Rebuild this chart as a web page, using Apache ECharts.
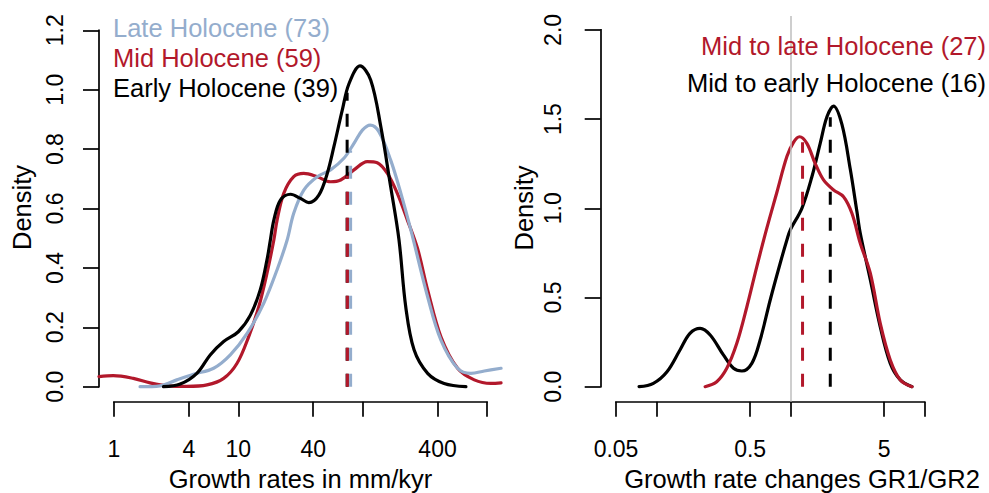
<!DOCTYPE html>
<html><head><meta charset="utf-8">
<script src="https://cdn.jsdelivr.net/npm/echarts@6/dist/echarts.min.js"></script>
<style>html,body{margin:0;padding:0;background:#fff;overflow:hidden}#c{width:989px;height:493px}</style>
</head><body><div id="c"></div>
<script>
// ================= DATA =================
// Left panel: density of growth rates (mm/kyr)
const leftSeriesNames = ['Late Holocene', 'Mid Holocene', 'Early Holocene'];
const leftCounts = [73, 59, 39];

const lateRate = [1.62, 2.35, 3.20, 4.36, 6.33, 8.62, 11.8, 16.0, 20.5, 24.7, 27.9, 33.6, 43.1, 55.2, 70.6, 85.1, 99.5, 115, 135, 168, 203, 244, 333, 426, 580, 743, 951, 1297];
const lateDensity = [0, 0.003, 0.023, 0.042, 0.062, 0.107, 0.180, 0.281, 0.394, 0.494, 0.584, 0.662, 0.707, 0.730, 0.769, 0.819, 0.864, 0.881, 0.859, 0.763, 0.651, 0.528, 0.303, 0.157, 0.062, 0.045, 0.053, 0.062];

const midRate = [0.757, 0.987, 1.43, 1.95, 2.66, 3.86, 5.60, 7.62, 9.77, 12.1, 14.6, 17.0, 19.3, 20.5, 23.2, 27.9, 33.6, 43.1, 55.2, 66.5, 85.1, 109, 131, 158, 190, 229, 276, 333, 426, 580, 790, 1077, 1297];
const midDensity = [0.034, 0.037, 0.028, 0.013, 0.003, 0.001, 0.006, 0.028, 0.079, 0.168, 0.269, 0.382, 0.494, 0.561, 0.651, 0.707, 0.718, 0.707, 0.690, 0.696, 0.730, 0.758, 0.754, 0.718, 0.651, 0.561, 0.466, 0.326, 0.168, 0.062, 0.023, 0.011, 0.013];

const earlyRate = [2.50, 3.41, 4.64, 5.94, 7.62, 10.0, 12.5, 15.0, 17.0, 18.1, 19.3, 21.8, 26.3, 31.6, 36.9, 44.4, 51.9, 58.7, 68.6, 77.6, 95.1, 116, 140, 168, 196, 222, 259, 333, 452, 677];
const earlyDensity = [0, 0.009, 0.045, 0.107, 0.152, 0.185, 0.241, 0.326, 0.427, 0.494, 0.561, 0.628, 0.648, 0.634, 0.620, 0.645, 0.718, 0.808, 0.932, 1.020, 1.080, 1.033, 0.875, 0.673, 0.494, 0.269, 0.124, 0.045, 0.011, 0];

// medians (late, mid, early) and curve height at median
const leftMedian = [80.0, 75.3, 75.0];
const leftMedianDensity = [0.795, 0.71, 0.99];

const leftXTicks = [1, 4, 10, 40, 100, 400, 1000];
const leftXLabels = [1, 4, 10, 40, 400];
const leftYMax = 1.2;
const leftYStep = 0.2;

// Right panel: density of growth rate changes GR1/GR2
const rightSeriesNames = ['Mid to late Holocene', 'Mid to early Holocene'];
const rightCounts = [27, 16];

const midLateRatio = [0.231, 0.282, 0.335, 0.398, 0.473, 0.561, 0.667, 0.792, 0.940, 1.053, 1.167, 1.325, 1.527, 1.763, 2.094, 2.486, 2.871, 3.314, 3.937, 4.670, 5.546, 6.587, 8.054];
const midLateDensity = [0, 0.028, 0.103, 0.243, 0.448, 0.673, 0.89, 1.09, 1.29, 1.37, 1.401, 1.364, 1.252, 1.159, 1.103, 1.065, 0.972, 0.804, 0.636, 0.355, 0.150, 0.038, 0];

const midEarlyRatio = [0.0743, 0.0950, 0.120, 0.150, 0.178, 0.212, 0.252, 0.316, 0.376, 0.434, 0.515, 0.594, 0.706, 0.838, 0.940, 0.995, 1.216, 1.444, 1.666, 1.870, 2.094, 2.419, 2.790, 3.131, 3.314, 3.937, 4.670, 5.546, 6.587, 8.054];
const midEarlyDensity = [0, 0.019, 0.084, 0.206, 0.299, 0.327, 0.290, 0.178, 0.103, 0.088, 0.131, 0.262, 0.486, 0.692, 0.822, 0.878, 1.0, 1.177, 1.364, 1.513, 1.573, 1.47, 1.22, 0.98, 0.86, 0.60, 0.336, 0.131, 0.038, 0];

// medians (mid-late, mid-early) and curve height at median
const rightMedian = [1.23, 1.98];
const rightMedianDensity = [1.37, 1.51];

const rightXTicks = [0.05, 0.1, 0.5, 1, 5, 10];
const rightXLabels = [0.05, 0.5, 5];
const rightYMax = 2.0;
const rightYStep = 0.5;
const referenceRatio = 1;

// ================= STYLE / LAYOUT =================
const FONT = '"Liberation Sans", Arial, Helvetica, sans-serif';
const C_BLUE = '#94ADCD', C_RED = '#B2182B', C_BLACK = '#000000', C_GREY = '#BEBEBE';
const AXIS_W = 1.7, CURVE_W = 3.2, DASH_W = 3;
const TICK_FS = 23, TEXT_FS = 25.5;

const layoutL = {tx0: 114, tx1: 487, ax: 99, yTop: 30.3, yBase: 386.7, plotTop: 16, axY: 401.7, xLabMargin: 36, yLabMargin: 33};
const layoutR = {tx0: 616, tx1: 924.6, ax: 600.7, yTop: 29.9, yBase: 386.7, plotTop: 16, axY: 401.7, xLabMargin: 36, yLabMargin: 36};

function fmtTick(v) { return String(parseFloat(Math.pow(10, v).toPrecision(3))); }

const grids = [], xAxes = [], yAxes = [];
function buildPanel(lay, xTicks, xLabels, yMax, yStep) {
  const base = grids.length;
  const lt0 = Math.log10(xTicks[0]), lt1 = Math.log10(xTicks[xTicks.length - 1]);
  const kx = (lay.tx1 - lay.tx0) / (lt1 - lt0);
  const ky = (lay.yBase - lay.yTop) / yMax;
  const padX = lay.tx0 - lay.ax;
  const g = {outerBoundsMode: 'none', containLabel: false};
  // 0: plot region (data)
  grids.push(Object.assign({left: lay.ax, top: lay.plotTop, width: (lay.tx1 - lay.tx0) + 2 * padX, height: lay.axY - lay.plotTop}, g));
  xAxes.push({type: 'value', gridIndex: base, min: lt0 - padX / kx, max: lt1 + padX / kx, show: false});
  yAxes.push({type: 'value', gridIndex: base, min: -(lay.axY - lay.yBase) / ky, max: yMax + (lay.yTop - lay.plotTop) / ky, show: false});
  // 1: x axis (tick range)
  grids.push(Object.assign({left: lay.tx0, top: lay.plotTop, width: lay.tx1 - lay.tx0, height: lay.axY - lay.plotTop}, g));
  xAxes.push({
    type: 'value', gridIndex: base + 1, min: lt0, max: lt1, position: 'bottom',
    axisLine: {show: true, onZero: false, lineStyle: {color: '#000', width: AXIS_W, cap: 'square'}},
    axisTick: {show: true, inside: false, length: 15, lineStyle: {color: '#000', width: AXIS_W}, customValues: xTicks.map(Math.log10)},
    axisLabel: {show: true, margin: lay.xLabMargin, fontSize: TICK_FS, fontFamily: FONT, color: '#000', hideOverlap: false,
      customValues: xLabels.map(Math.log10), formatter: fmtTick},
    splitLine: {show: false}, minorTick: {show: false}
  });
  yAxes.push({type: 'value', gridIndex: base + 1, min: 0, max: 1, show: false});
  // 2: y axis (tick range)
  grids.push(Object.assign({left: lay.ax, top: lay.yTop, width: lay.tx1 - lay.ax, height: lay.yBase - lay.yTop}, g));
  xAxes.push({type: 'value', gridIndex: base + 2, min: 0, max: 1, show: false});
  yAxes.push({
    type: 'value', gridIndex: base + 2, min: 0, max: yMax, interval: yStep, position: 'left',
    axisLine: {show: true, onZero: false, lineStyle: {color: '#000', width: AXIS_W, cap: 'square'}},
    axisTick: {show: true, inside: false, length: 16, lineStyle: {color: '#000', width: AXIS_W}},
    axisLabel: {show: true, rotate: 90, margin: lay.yLabMargin, fontSize: TICK_FS, fontFamily: FONT, color: '#000', hideOverlap: false,
      formatter: v => v.toFixed(1)},
    splitLine: {show: false}
  });
  return base;
}
const pL = buildPanel(layoutL, leftXTicks, leftXLabels, leftYMax, leftYStep);
const pR = buildPanel(layoutR, rightXTicks, rightXLabels, rightYMax, rightYStep);

function curve(xs, ds, color, gi, z) {
  return {type: 'line', xAxisIndex: gi, yAxisIndex: gi, data: xs.map((x, i) => [Math.log10(x), ds[i]]),
    showSymbol: false, symbol: 'none', smooth: 0.35, silent: true, z: z,
    lineStyle: {color: color, width: CURVE_W, cap: 'round', join: 'round'}};
}
function medianLine(x, h, color, gi, z) {
  return {type: 'line', xAxisIndex: gi, yAxisIndex: gi, data: [[Math.log10(x), 0], [Math.log10(x), h]],
    showSymbol: false, symbol: 'none', silent: true, z: z,
    lineStyle: {color: color, width: DASH_W, type: [13, 13], cap: 'butt'}};
}

const series = [
  curve(midRate, midDensity, C_RED, pL, 2),
  curve(lateRate, lateDensity, C_BLUE, pL, 3),
  curve(earlyRate, earlyDensity, C_BLACK, pL, 4),
  medianLine(leftMedian[2], leftMedianDensity[2], C_BLACK, pL, 5),
  medianLine(leftMedian[1], leftMedianDensity[1], C_RED, pL, 6),
  medianLine(leftMedian[0], leftMedianDensity[0], C_BLUE, pL, 7),
  {type: 'line', xAxisIndex: pR, yAxisIndex: pR, data: [], silent: true, z: 1,
    markLine: {silent: true, symbol: ['none', 'none'], label: {show: false}, animation: false,
      lineStyle: {color: C_GREY, width: 1.5, type: 'solid'}, data: [{xAxis: Math.log10(referenceRatio)}]}},
  curve(midEarlyRatio, midEarlyDensity, C_BLACK, pR, 2),
  curve(midLateRatio, midLateDensity, C_RED, pR, 3),
  medianLine(rightMedian[0], rightMedianDensity[0], C_RED, pR, 5),
  medianLine(rightMedian[1], rightMedianDensity[1], C_BLACK, pR, 6)
];

function txt(s, x, y, color, align, rot) {
  return {type: 'text', x: x, y: y, rotation: rot || 0, silent: true, z: 10,
    style: {text: s, fill: color, font: TEXT_FS + 'px ' + FONT, align: align, verticalAlign: 'middle'}};
}
const leftColors = [C_BLUE, C_RED, C_BLACK];
const rightColors = [C_RED, C_BLACK];
const graphic = [];
leftSeriesNames.forEach((n, i) => graphic.push(txt(n + ' (' + leftCounts[i] + ')', 113, 28 + i * 30.2, leftColors[i], 'left')));
rightSeriesNames.forEach((n, i) => graphic.push(txt(n + ' (' + rightCounts[i] + ')', 986, 46 + i * 36.7, rightColors[i], 'right')));
graphic.push(txt('Growth rates in mm/kyr', 300.5, 478.7, '#000', 'center'));
graphic.push(txt('Growth rate changes GR1/GR2', 802, 478.7, '#000', 'center'));
graphic.push(txt('Density', 21.5, 207.5, '#000', 'center', Math.PI / 2));
graphic.push(txt('Density', 523.6, 208, '#000', 'center', Math.PI / 2));

const chart = echarts.init(document.getElementById('c'), null, {renderer: 'svg', width: 989, height: 493});
chart.setOption({
  animation: false,
  backgroundColor: '#ffffff',
  grid: grids, xAxis: xAxes, yAxis: yAxes,
  series: series,
  graphic: graphic
});
</script></body></html>
